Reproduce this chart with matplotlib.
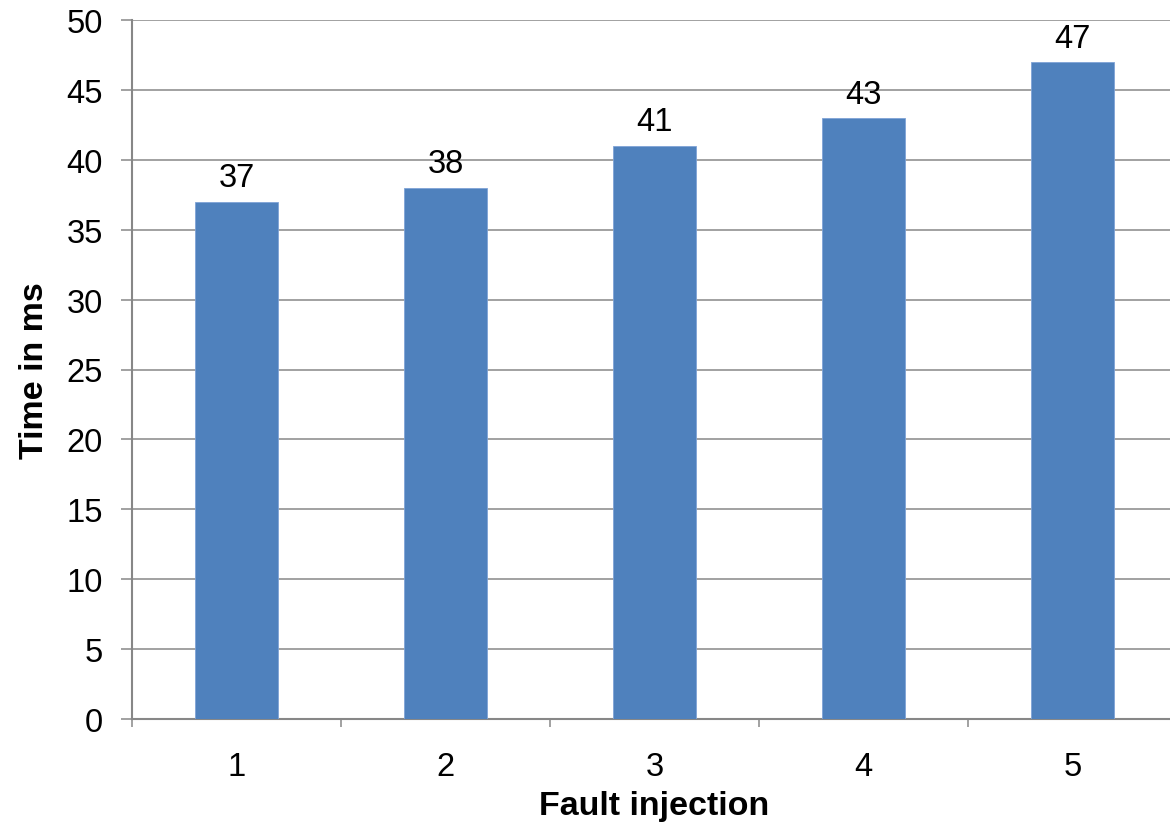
import matplotlib.pyplot as plt

plt.rcParams["font.family"] = ["Liberation Sans", "DejaVu Sans"]

# fault injection runs and measured time
runs = [1, 2, 3, 4, 5]
times_ms = [37, 38, 41, 43, 47]

bar_color = "#4F81BD"
grid_color = "#878787"

fig = plt.figure(figsize=(11.7, 8.29), dpi=100)
ax = fig.add_axes([132 / 1170, 109 / 829, 1045 / 1170, 699 / 829])

bars = ax.bar(runs, times_ms, width=0.4, color=bar_color,
              edgecolor="#7FA3D6", linewidth=0.6, zorder=3)

for b, v in zip(bars, times_ms):
    ax.annotate(str(v), (b.get_x() + b.get_width() / 2, v),
                xytext=(0, 6), textcoords="offset points",
                ha="center", va="bottom", fontsize=23.5, color="black")

ax.set_xlim(0.5, 5.5)
ax.set_ylim(0, 50)
ax.set_yticks(range(0, 51, 5))
ax.set_xticks(runs)
ax.set_xticks([0.5, 1.5, 2.5, 3.5, 4.5, 5.5], minor=True)

ax.grid(axis="y", color=grid_color, linewidth=1.1, zorder=0)
ax.set_axisbelow(True)

for side in ["top", "right"]:
    ax.spines[side].set_visible(False)
for side in ["left", "bottom"]:
    ax.spines[side].set_color(grid_color)
    ax.spines[side].set_linewidth(1.5)

ax.tick_params(axis="y", length=8, width=1.1, color=grid_color,
               pad=13, labelsize=23.5)
ax.tick_params(axis="x", which="major", length=0, pad=23, labelsize=23.5)
ax.tick_params(axis="x", which="minor", length=6, width=1.1,
               color=grid_color)

ax.set_ylabel("Time in ms", fontsize=24.5, fontweight="bold", labelpad=12)
ax.set_xlabel("Fault injection", fontsize=24.5, fontweight="bold", labelpad=6)

fig.savefig("out.png", dpi=100)
